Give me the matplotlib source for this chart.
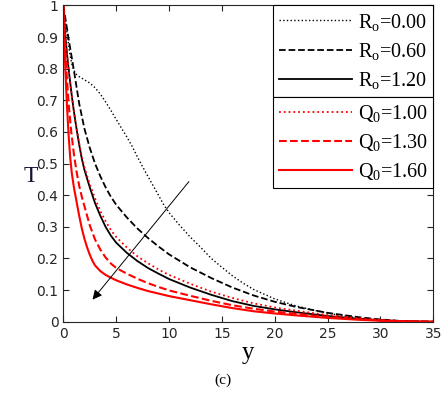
import matplotlib
matplotlib.use("Agg")
import matplotlib.pyplot as plt

# curve data (y, T)
y_r0 = [0, 0.2, 0.4, 0.6, 0.8, 1.0, 1.25, 1.5, 2.0, 2.5, 3.0, 3.5, 4.0, 4.5, 5.0, 5.5, 6.0, 6.5, 7.0, 7.5,
        8.0, 8.5, 9.0, 9.5, 10.0, 11.0, 12.0, 13.0, 14.0, 15.0, 16.0, 17.0, 18.0, 20, 22, 24, 26, 28, 30, 32, 33, 35]
T_r0 = [1, 0.95, 0.90, 0.85, 0.815, 0.795, 0.782, 0.775, 0.765, 0.755, 0.74, 0.72, 0.695, 0.668, 0.64, 0.612,
        0.585, 0.555, 0.522, 0.49, 0.46, 0.43, 0.40, 0.37, 0.345, 0.305, 0.268, 0.235, 0.20, 0.172, 0.145, 0.122,
        0.102, 0.072, 0.05, 0.034, 0.021, 0.011, 0.005, 0.0015, 0.0007, 0]

y_r06 = [0, 0.5, 1.0, 1.5, 2.0, 2.5, 3.0, 3.5, 4.0, 4.5, 5.0, 6.0, 7.0, 8.0, 9.0, 10.0, 12, 14, 16, 18, 20,
         22, 25, 28, 30, 32, 33, 35]
T_r06 = [1, 0.895, 0.795, 0.69, 0.61, 0.55, 0.50, 0.46, 0.425, 0.395, 0.37, 0.33, 0.295, 0.265, 0.238, 0.213,
         0.172, 0.138, 0.108, 0.083, 0.063, 0.047, 0.028, 0.014, 0.007, 0.002, 0.001, 0]

y_r12 = [0, 0.2, 0.4, 0.6, 0.8, 1.0, 1.25, 1.5, 1.75, 2.0, 2.5, 3.0, 3.5, 4.0, 4.5, 5.0, 6.0, 7.0, 8.0, 9.0,
         10.0, 12, 14, 16, 18, 20, 22, 25, 28, 30, 32, 33, 35]
T_r12 = [1, 0.90, 0.83, 0.77, 0.715, 0.665, 0.61, 0.56, 0.515, 0.48, 0.425, 0.375, 0.335, 0.30, 0.272, 0.25,
         0.218, 0.192, 0.17, 0.152, 0.135, 0.108, 0.085, 0.065, 0.05, 0.039, 0.03, 0.018, 0.009, 0.005, 0.002,
         0.001, 0]

y_q10 = [0, 0.2, 0.4, 0.6, 0.8, 1.0, 1.25, 1.5, 1.75, 2.0, 2.5, 3.0, 3.5, 4.0, 4.5, 5.0, 6.0, 7.0, 8.0, 9.0,
         10.0, 12, 14, 16, 18, 20, 22, 25, 28, 30, 32, 33, 35]
T_q10 = [1, 0.90, 0.83, 0.77, 0.715, 0.665, 0.612, 0.565, 0.522, 0.488, 0.435, 0.39, 0.35, 0.318, 0.29, 0.268,
         0.235, 0.207, 0.185, 0.165, 0.148, 0.12, 0.095, 0.075, 0.058, 0.045, 0.035, 0.021, 0.011, 0.006, 0.002,
         0.001, 0]

y_q13 = [0, 0.15, 0.3, 0.5, 0.75, 1.0, 1.25, 1.5, 1.75, 2.0, 2.5, 3.0, 3.5, 4.0, 4.5, 5.0, 6.0, 7.0, 8.0, 9.0,
         10.0, 12, 14, 16, 18, 20, 22, 25, 28, 30, 32, 33, 35]
T_q13 = [1, 0.88, 0.79, 0.69, 0.60, 0.53, 0.475, 0.43, 0.395, 0.365, 0.305, 0.26, 0.228, 0.203, 0.184, 0.17,
         0.152, 0.136, 0.122, 0.11, 0.099, 0.082, 0.066, 0.052, 0.041, 0.032, 0.025, 0.015, 0.008, 0.004, 0.0015,
         0.0008, 0]

y_q16 = [0, 0.1, 0.2, 0.35, 0.5, 0.65, 0.8, 1.0, 1.25, 1.5, 1.75, 2.0, 2.25, 2.5, 2.75, 3.0, 3.5, 4.0, 4.5, 5.0,
         6.0, 7.0, 8.0, 9.0, 10.0, 12, 14, 16, 18, 20, 22, 25, 28, 30, 32, 33, 35]
T_q16 = [1, 0.88, 0.79, 0.68, 0.59, 0.52, 0.47, 0.425, 0.38, 0.335, 0.295, 0.262, 0.235, 0.212, 0.193, 0.178,
         0.16, 0.148, 0.139, 0.131, 0.118, 0.107, 0.097, 0.089, 0.081, 0.068, 0.055, 0.043, 0.033, 0.026, 0.02,
         0.012, 0.006, 0.003, 0.001, 0.0005, 0]

labels_r = ['R$_{\\mathrm{o}}$=0.00', 'R$_{\\mathrm{o}}$=0.60', 'R$_{\\mathrm{o}}$=1.20']
labels_q = ['Q$_{0}$=1.00', 'Q$_{0}$=1.30', 'Q$_{0}$=1.60']

plt.rcParams['mathtext.fontset'] = 'custom'
plt.rcParams['mathtext.rm'] = 'Liberation Serif'
plt.rcParams['mathtext.it'] = 'Liberation Serif:italic'

fig = plt.figure(figsize=(4.45, 3.98), dpi=100)
ax = fig.add_axes([0.1423, 0.1917, 0.8314, 0.7945])

l1, = ax.plot(y_r0, T_r0, color='black', linestyle=':', linewidth=1.0)
l2, = ax.plot(y_r06, T_r06, color='black', linestyle='--', linewidth=1.3)
l3, = ax.plot(y_r12, T_r12, color='black', linestyle='-', linewidth=1.3)
l4, = ax.plot(y_q10, T_q10, color='red', linestyle=':', linewidth=1.3)
l5, = ax.plot(y_q13, T_q13, color='red', linestyle='--', linewidth=1.5)
l6, = ax.plot(y_q16, T_q16, color='red', linestyle='-', linewidth=1.5)

# arrow showing direction of increase
ax.annotate('', xy=(2.6, 0.063), xytext=(12.05, 0.45),
            arrowprops=dict(arrowstyle='-|>', color='black', lw=0.7, mutation_scale=14))

ax.set_xlim(0, 35)
ax.set_ylim(0, 1)
ax.set_xticks(range(0, 36, 5))
ax.set_yticks([0, 0.1, 0.2, 0.3, 0.4, 0.5, 0.6, 0.7, 0.8, 0.9, 1])
ax.set_yticklabels(['0', '0.1', '0.2', '0.3', '0.4', '0.5', '0.6', '0.7', '0.8', '0.9', '1'])
ax.tick_params(direction='in', top=True, right=True, labelsize=10, colors='#262626', length=4)
for s in ax.spines.values():
    s.set_color('#262626')
    s.set_linewidth(0.8)

ax.set_xlabel('y', fontsize=18, family='Liberation Serif', labelpad=1)
ax.set_ylabel('T', fontsize=17, family='Liberation Serif', rotation=0, color='#1a1030', va='center')
ax.yaxis.set_label_coords(-0.087, 0.46)
fig.text(0.5, 0.035, '(c)', fontsize=11, family='Liberation Serif', ha='center')

leg_font = {'family': 'Liberation Serif', 'size': 14.5}
leg_kw = dict(loc='upper right', mode='expand', borderaxespad=0, fancybox=False, edgecolor='black',
              prop=leg_font, handlelength=3.6, handletextpad=0.3, labelspacing=0.4, borderpad=0.3,
              framealpha=1)
leg1 = ax.legend([l1, l2, l3], labels_r, bbox_to_anchor=(0.567, 0, 0.433, 1.0), **leg_kw)
leg1.get_frame().set_linewidth(0.8)
ax.add_artist(leg1)

# second legend sits right below the first one, sharing its border
fig.canvas.draw()
bb = leg1.get_window_extent().transformed(ax.transAxes.inverted())
leg2 = ax.legend([l4, l5, l6], labels_q, bbox_to_anchor=(0.567, 0, 0.433, bb.y0), **leg_kw)
leg2.get_frame().set_linewidth(0.8)

fig.savefig('out.png', dpi=100)
